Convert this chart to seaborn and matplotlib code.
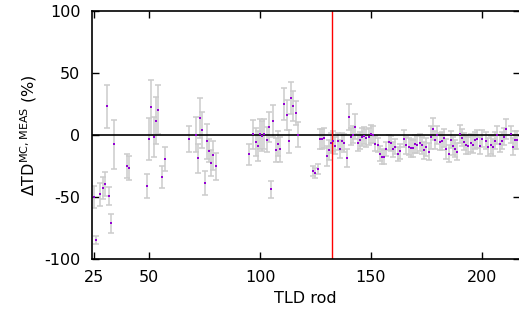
import matplotlib
matplotlib.use('Agg')
import matplotlib.pyplot as plt
import pandas as pd
import seaborn as sns

rods = [25, 26, 28, 29, 30, 31, 32, 33, 34, 40, 41, 49, 50, 51, 52, 53, 54, 56, 57, 68,
        71, 72, 73, 74, 75, 76, 77, 78, 79, 80,
        95, 97, 98, 99, 100, 101, 102, 103, 104, 105, 106, 107, 108, 109,
        111, 112, 113, 114, 115, 116, 117,
        124, 125, 126, 127, 128, 129, 130, 131, 132, 133, 134, 135, 136, 137, 138, 139,
        140, 141, 142, 143, 144, 145, 146, 147, 148, 149, 150, 151, 152, 153, 154, 155,
        156, 157, 158, 159, 160, 161, 162, 163, 165, 166, 167, 168, 169, 170, 171, 172,
        173, 174, 175, 176, 177, 178, 179, 180, 181, 182, 183, 184, 185, 186, 187, 188,
        189, 190, 191, 192, 193, 194, 195, 196, 197, 198, 199, 200, 202, 203, 204, 205,
        206, 207, 208, 209, 210, 211, 213, 214, 215, 216]

delta = [-50, -84.4, -47.8, -42.7, -39.3, 23.1, -49, -71.2, -7.5, -25, -26.9, -41.1, -3.2, 22.3,
         -1.6, 11.5, 20.4, -33.9, -19.4, -3,
         0.2, -18.8, 13.7, 3.8, -38.7, -5.1, -12.6, -22.6, -16.4, -25.3,
         -15.6, 0.5, -5.6, -8.6, 1, -0.6, 1, -3.8, 6.7, -43.8, 11.3, -12.1, -7, -11.5,
         24.8, 16.1, -5.1, 30.1, 23.4, 17.7, 0.2,
         -28.8, -30.4, -27.2, -3.5, -3.2, -2.7, -17, -12.1, -6.5, -4.8, -8.6, -5.1, -11.3,
         -5.1, -6.5, -18.5,
         14.3, -1.4, 0.2, 6.7, -6.2, -4.3, -1.6, -0.6, -2.4, -1.4, 0.8, 0.2, -7, -8.1,
         -15.1, -17.5,
         -17.7, -11.3, -5.9, -6.7, -11.5, -9.4, -15.3, -13.1, -3, -8.3, -9.4, -10.5,
         -10.8, -7.3, -7.8, -6.2,
         -8.3, -12.4, -9.7, -13.4, -1.9, 4.8, -4, 0, -5.4, -4.8, -2.4, -11, -15, -3.8,
         -8.9, -11,
         -13.4, 0.8, -2.2, -5.4, -8.1, -8.6, -6.5, -7.8, -4.3, -3.2, -8.6, -3, -4.6, -9.7,
         -8.1, -9.9,
         -4.6, 0, -7, -4.6, -1.4, 5.1, 0.5, -9.4, -4, -4]

err = [8.9, 3.2, 9.4, 8.6, 9.7, 17.5, 7.4, 7.5, 19.6, 10, 9.7, 10, 17.3, 22, 16, 19, 19.8, 9,
       10, 10.5,
       14, 11.8, 16.4, 14.6, 9.8, 14.2, 9.5, 10.8, 11.8, 10.8,
       8.5, 12, 11, 12, 12, 12, 12, 10, 12, 6.9, 13, 10, 10, 10,
       12.8, 12, 9.4, 13, 12, 10, 10,
       4, 4, 4, 8, 8, 8, 8, 8, 8, 8, 7, 7, 7, 7, 7, 7,
       10.5, 7, 7, 10, 7, 7, 7, 7, 7, 7, 7, 7, 6, 6, 6, 6,
       6, 6, 6, 6, 6, 6, 6, 6, 7, 7, 7, 7, 7, 7, 7, 7,
       7, 7, 7, 7, 9, 9, 7, 7, 7, 7, 7, 8, 7, 7, 7, 7,
       7, 7, 7, 7, 7, 7, 7, 7, 7, 7, 7, 7, 7, 7, 7, 7,
       7, 7, 7, 7, 7, 8, 7, 7, 7, 7]

df = pd.DataFrame({'rod': rods, 'delta': delta, 'err': err})

sns.set_style('ticks')
plt.rcParams['font.family'] = ['DejaVu Sans']
plt.rcParams['mathtext.fontset'] = 'dejavusans'
plt.rcParams['axes.unicode_minus'] = False
plt.rcParams['text.color'] = 'black'
plt.rcParams['axes.labelcolor'] = 'black'
plt.rcParams['xtick.labelcolor'] = 'black'
plt.rcParams['ytick.labelcolor'] = 'black'

fig = plt.figure(figsize=(5.19, 3.2), dpi=100)
ax = fig.add_axes([91.5 / 519, 61 / 320, 428 / 519, 248 / 320])

ax.errorbar(df['rod'], df['delta'], yerr=df['err'], fmt='none', ecolor='#cccccc',
            elinewidth=1.1, capsize=2.5, capthick=1.1, zorder=1)
ax.axhline(0, color='black', lw=1.2, zorder=2)
ax.axvline(132.5, color='red', lw=1, zorder=2)
sns.scatterplot(data=df, x='rod', y='delta', ax=ax, marker='s', s=3, linewidth=0,
                color='#9400d3', zorder=3)

ax.set_xlim(24, 217)
ax.set_ylim(-100, 100)
ax.set_xticks([25, 50, 100, 150, 200])
ax.set_yticks([-100, -50, 0, 50, 100])
ax.tick_params(direction='in', length=5, width=1, top=True, right=True,
               labelsize=11.5, pad=8, color='black', labelcolor='black')
for s in ax.spines.values():
    s.set_linewidth(1.2)
    s.set_color('black')

ax.set_xlabel('TLD rod', fontsize=11.5, color='black')
ax.set_ylabel(r'$\Delta$TD$^{\mathrm{MC,MEAS}}$ (%)', fontsize=11.5, color='black')

fig.savefig('out.png', dpi=100)
